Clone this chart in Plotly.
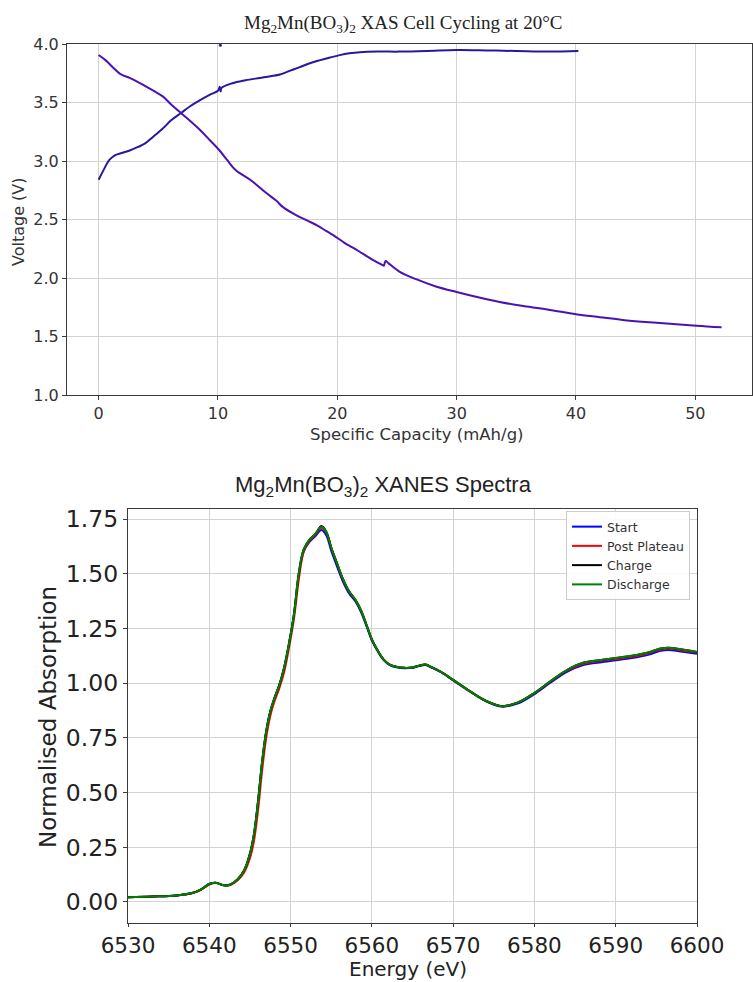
import plotly.graph_objects as go

W, H = 753, 982

# ---------------- Top chart data: cell cycling ----------------
charge_cap = [0, 0.4, 0.9, 1.4, 2.0, 2.6, 3.3, 3.9, 4.6, 5.4, 6.1, 6.9, 7.7, 8.5, 9.3, 10.0,
              10.15, 10.22, 10.3, 11.2, 12.3, 13.5, 14.4, 15.2, 16.0, 16.8, 17.7, 18.5, 19.4,
              20.2, 21.0, 21.9, 23.5, 25.2, 27.5, 30.0, 32.5, 35.0, 37.8, 40.2]
charge_v = [2.84, 2.92, 3.01, 3.05, 3.07, 3.09, 3.12, 3.15, 3.21, 3.28, 3.35, 3.41, 3.47, 3.52,
            3.565, 3.60, 3.635, 3.595, 3.625, 3.665, 3.69, 3.71, 3.725, 3.74, 3.77, 3.80, 3.835,
            3.86, 3.885, 3.905, 3.92, 3.93, 3.935, 3.935, 3.94, 3.948, 3.945, 3.94, 3.935, 3.94]

discharge_cap = [0, 0.6, 1.2, 1.8, 2.6, 3.3, 4.0, 4.7, 5.4, 6.1, 6.9, 7.7, 8.5, 9.3, 10.1, 10.8,
                 11.5, 12.7, 13.2, 14.0, 14.9, 15.4, 16.5, 17.5, 18.3, 19.1, 19.9, 20.6, 21.3,
                 22.1, 22.9, 23.8, 23.9, 24.05, 24.3, 25.2, 26.6, 28.2, 30.0, 31.8, 33.6, 35.6,
                 37.8, 40.0, 42.0, 43.9, 45.8, 47.6, 50.1, 52.2]
discharge_v = [3.906, 3.86, 3.80, 3.745, 3.71, 3.675, 3.635, 3.595, 3.55, 3.48, 3.41, 3.34,
               3.265, 3.18, 3.094, 3.005, 2.92, 2.84, 2.80, 2.73, 2.66, 2.61, 2.54, 2.49, 2.45,
               2.40, 2.35, 2.30, 2.26, 2.21, 2.16, 2.11, 2.105, 2.145, 2.125, 2.055, 1.99,
               1.93, 1.88, 1.835, 1.795, 1.76, 1.727, 1.69, 1.665, 1.642, 1.625, 1.612,
               1.592, 1.578]

stray_cap = [10.2]
stray_v = [3.99]

cap_ticks = [0, 10, 20, 30, 40, 50]
volt_ticks = [1.0, 1.5, 2.0, 2.5, 3.0, 3.5, 4.0]

# ---------------- Bottom chart data: XANES spectra ----------------
energy = [6530, 6533, 6536, 6538, 6539, 6540, 6540.8, 6541.8, 6542.6, 6543.5, 6544.3, 6545,
          6545.5, 6546, 6546.5, 6547, 6547.5, 6548, 6548.6, 6549.2, 6549.8, 6550.4, 6551,
          6551.6, 6552.3, 6553, 6553.8, 6554.4, 6555, 6555.7, 6556.4, 6557.2, 6558, 6558.7,
          6559.4, 6560, 6560.7, 6561.4, 6562.2, 6563, 6564, 6565, 6565.8, 6566.6, 6567.4,
          6568.5, 6570, 6572, 6574, 6576, 6578, 6580, 6582, 6584, 6586, 6588, 6590, 6592,
          6594, 6595.5, 6596.5, 6598, 6600]

start = [0.022, 0.025, 0.030, 0.042, 0.058, 0.082, 0.088, 0.076, 0.080, 0.104, 0.145, 0.22,
         0.31, 0.46, 0.64, 0.78, 0.87, 0.93, 0.99, 1.07, 1.18, 1.31, 1.49, 1.60, 1.645, 1.67,
         1.700, 1.675, 1.605, 1.535, 1.468, 1.41, 1.372, 1.322, 1.255, 1.195, 1.147, 1.108,
         1.083, 1.073, 1.068, 1.070, 1.078, 1.083, 1.070, 1.050, 1.013, 0.963, 0.918, 0.893,
         0.908, 0.950, 1.003, 1.052, 1.083, 1.095, 1.105, 1.115, 1.130, 1.148, 1.152, 1.145,
         1.135]

post_plateau = [0.022, 0.025, 0.030, 0.041, 0.056, 0.080, 0.087, 0.076, 0.078, 0.099, 0.136,
                0.20, 0.28, 0.42, 0.60, 0.75, 0.85, 0.915, 0.975, 1.05, 1.16, 1.29, 1.47, 1.60,
                1.65, 1.677, 1.710, 1.688, 1.618, 1.548, 1.478, 1.418, 1.378, 1.328, 1.26, 1.20,
                1.15, 1.11, 1.085, 1.075, 1.07, 1.072, 1.08, 1.085, 1.072, 1.052, 1.015, 0.965,
                0.92, 0.895, 0.912, 0.955, 1.008, 1.057, 1.089, 1.101, 1.111, 1.121, 1.136,
                1.154, 1.158, 1.151, 1.140]

charge = [0.022, 0.025, 0.030, 0.042, 0.058, 0.082, 0.088, 0.076, 0.080, 0.104, 0.145, 0.22,
          0.31, 0.46, 0.64, 0.78, 0.87, 0.93, 0.99, 1.07, 1.18, 1.31, 1.50, 1.61, 1.655, 1.68,
          1.718, 1.692, 1.62, 1.55, 1.48, 1.42, 1.38, 1.33, 1.26, 1.20, 1.15, 1.11, 1.085,
          1.075, 1.07, 1.072, 1.08, 1.085, 1.072, 1.052, 1.015, 0.965, 0.92, 0.895, 0.912,
          0.955, 1.01, 1.06, 1.093, 1.105, 1.115, 1.125, 1.14, 1.158, 1.162, 1.155, 1.143]

discharge = [0.022, 0.025, 0.030, 0.042, 0.058, 0.082, 0.088, 0.076, 0.080, 0.104, 0.145,
             0.22, 0.31, 0.46, 0.64, 0.78, 0.87, 0.93, 0.99, 1.07, 1.18, 1.31, 1.50, 1.61,
             1.655, 1.68, 1.715, 1.69, 1.62, 1.55, 1.48, 1.42, 1.38, 1.33, 1.26, 1.20, 1.15,
             1.11, 1.085, 1.075, 1.07, 1.072, 1.08, 1.085, 1.072, 1.052, 1.015, 0.965, 0.92,
             0.895, 0.912, 0.955, 1.01, 1.06, 1.093, 1.105, 1.115, 1.125, 1.14, 1.158, 1.162,
             1.155, 1.143]

energy_ticks = [6530, 6540, 6550, 6560, 6570, 6580, 6590, 6600]
abs_ticks = [0.0, 0.25, 0.5, 0.75, 1.0, 1.25, 1.5, 1.75]

spectra = [("Start", start, "#0000ff"), ("Post Plateau", post_plateau, "#ff0000"),
           ("Charge", charge, "#000000"), ("Discharge", discharge, "#008000")]

# ---------------- Figure ----------------
fig = go.Figure()

fig.add_trace(go.Scatter(x=charge_cap, y=charge_v, mode="lines", line=dict(color="#27199c", width=2),
                         line_shape="spline", xaxis="x", yaxis="y", showlegend=False))
fig.add_trace(go.Scatter(x=discharge_cap, y=discharge_v, mode="lines", line=dict(color="#4a12b2", width=2),
                         line_shape="spline", xaxis="x", yaxis="y", showlegend=False))
fig.add_trace(go.Scatter(x=stray_cap, y=stray_v, mode="markers", marker=dict(color="#27199c", size=3),
                         xaxis="x", yaxis="y", showlegend=False, cliponaxis=False))

for name, vals, col in spectra:
    fig.add_trace(go.Scatter(x=energy, y=vals, mode="lines", name=name, line=dict(color=col, width=2),
                             line_shape="spline", xaxis="x2", yaxis="y2"))

def px_x(p):
    return p / W

def px_y(p):
    return 1 - p / H

axis_common = dict(showline=True, mirror=True, linecolor="#3a3a3a", linewidth=1.2,
                   ticks="outside", ticklen=4, tickwidth=1, tickcolor="#3a3a3a",
                   showgrid=True, gridcolor="#d3d3d3", gridwidth=1, zeroline=False,
                   automargin=False)

def label(text, x, y, size, family="DejaVu Sans", color="#222222", angle=0):
    return dict(text=text, x=px_x(x), y=px_y(y), xref="paper", yref="paper", showarrow=False,
                xanchor="center", yanchor="middle", textangle=angle,
                font=dict(family=family, size=size, color=color))

bottom_x_axis = dict(axis_common, ticklen=3)

fig.update_layout(
    template="none",
    width=W, height=H, margin=dict(l=0, r=0, t=0, b=0, pad=0),
    paper_bgcolor="white", plot_bgcolor="white",
    font=dict(family="DejaVu Sans", color="#222222"),
    xaxis=dict(domain=[px_x(67), px_x(752)], range=[-2.65, 54.75], tickvals=cap_ticks,
               tickfont=dict(size=16, color="#333333"), anchor="y", **axis_common),
    yaxis=dict(domain=[px_y(395), px_y(44)], range=[1.0, 4.0], tickvals=volt_ticks,
               tickformat=".1f", tickfont=dict(size=16, color="#333333"), anchor="x", **axis_common),
    xaxis2=dict(domain=[px_x(128), px_x(697)], range=[6530, 6600], tickvals=energy_ticks,
                tickfont=dict(size=21.5, color="#222222"), anchor="y2", **bottom_x_axis),
    yaxis2=dict(domain=[px_y(923), px_y(509)], range=[-0.096, 1.796], tickvals=abs_ticks,
                tickformat=".2f", tickfont=dict(size=23.5, color="#222222"), anchor="x2", **axis_common),
    legend=dict(x=px_x(566), y=px_y(511), xanchor="left", yanchor="top",
                bgcolor="rgba(255,255,255,0.9)", bordercolor="#cccccc", borderwidth=1,
                font=dict(size=12.5, color="#333333"), itemwidth=30, tracegroupgap=0),
    annotations=[
        label("Mg<sub>2</sub>Mn(BO<sub>3</sub>)<sub>2</sub> XAS Cell Cycling at 20°C", 403, 24, 19,
              family="Liberation Serif"),
        label("Voltage (V)", 18, 222, 16, color="#333333", angle=-90),
        label("Specific Capacity (mAh/g)", 417, 434, 16.5, color="#333333"),
        label("Mg<sub>2</sub>Mn(BO<sub>3</sub>)<sub>2</sub> XANES Spectra", 383, 486, 22,
              family="Liberation Sans"),
        label("Normalised Absorption", 48, 717, 23, angle=-90),
        label("Energy (eV)", 408, 968.5, 20),
    ],
)

fig.write_html("out.html")
